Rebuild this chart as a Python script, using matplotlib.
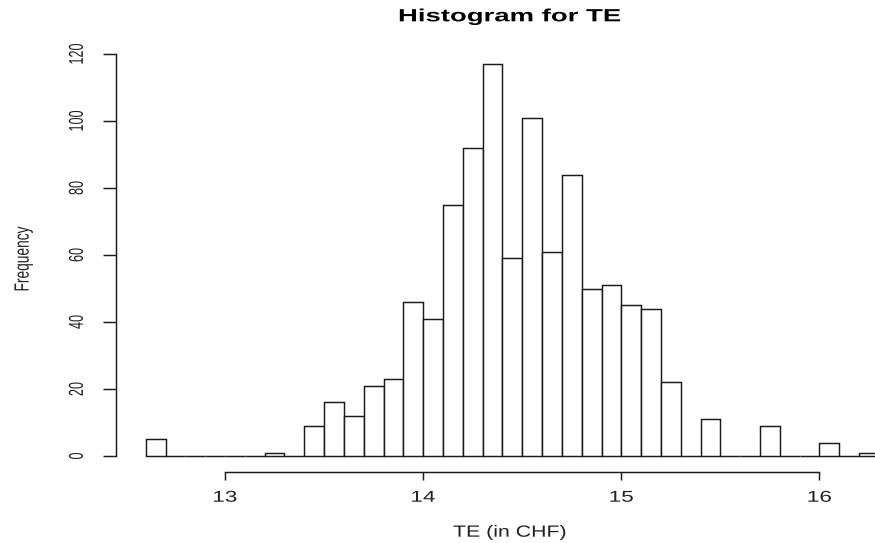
import numpy as np
import matplotlib
matplotlib.use("Agg")
import matplotlib.pyplot as plt
from matplotlib.patheffects import AbstractPathEffect
from matplotlib.transforms import Affine2D

# ---- data ----
bin_left = [12.6, 12.7, 12.8, 12.9, 13.0, 13.1, 13.2, 13.3, 13.4, 13.5,
            13.6, 13.7, 13.8, 13.9, 14.0, 14.1, 14.2, 14.3, 14.4, 14.5,
            14.6, 14.7, 14.8, 14.9, 15.0, 15.1, 15.2, 15.3, 15.4, 15.5,
            15.6, 15.7, 15.8, 15.9, 16.0, 16.1, 16.2]
counts = [5, 0, 0, 0, 0, 0, 1, 0, 9, 16,
          12, 21, 23, 46, 41, 75, 92, 117, 59, 101,
          61, 84, 50, 51, 45, 44, 22, 0, 11, 0,
          0, 9, 0, 0, 4, 0, 1]
bin_width = 0.1
x_ticks = [13, 14, 15, 16]
y_ticks = [0, 20, 40, 60, 80, 100, 120]
title = "Histogram for TE"
x_label = "TE (in CHF)"
y_label = "Frequency"

W, H = 875, 543
FONT = "Liberation Sans"


class HStretch(AbstractPathEffect):
    """Widen text glyphs horizontally about their centre."""
    def __init__(self, sx):
        super().__init__()
        self.sx = sx

    def draw_path(self, renderer, gc, tpath, affine, rgbFace=None):
        ext = tpath.get_extents(affine)
        cx = 0.5 * (ext.x0 + ext.x1)
        new = affine + Affine2D().translate(-cx, 0).scale(self.sx, 1).translate(cx, 0)
        renderer.draw_path(gc, tpath, new, rgbFace)


def fx(px):
    return px / W


def fy(py):
    return 1 - py / H


fig = plt.figure(figsize=(W / 100, H / 100), dpi=100)
fig.patch.set_facecolor("white")
ax = fig.add_axes([0, 0, 1, 1])
ax.set_facecolor("none")

# scales: 13 -> px 225, 16 -> px 819.5 ; 0 -> px 456, 120 -> px 54
ppu_x = (819.5 - 225) / 3.0
ppu_y = (456 - 54) / 120.0
ax.set_xlim(13 - 225 / ppu_x, 13 + (W - 225) / ppu_x)
ax.set_ylim(-(H - 456) / ppu_y, 456 / ppu_y)

ax.bar(bin_left, counts, width=bin_width, align="edge",
       facecolor="white", edgecolor="#1a1a1a", linewidth=1.05, zorder=2)

for s in ["top", "right"]:
    ax.spines[s].set_visible(False)
ax.spines["left"].set_position(("data", 12.6 - 0.04 * 3.7))
ax.spines["left"].set_bounds(0, 120)
ax.spines["bottom"].set_position(("data", -(472 - 456) / ppu_y))
ax.spines["bottom"].set_bounds(13, 16)
for s in ["left", "bottom"]:
    ax.spines[s].set_linewidth(1.05)
    ax.spines[s].set_color("#1a1a1a")

ax.set_xticks(x_ticks)
ax.set_xticklabels([str(t) for t in x_ticks])
ax.set_yticks(y_ticks)
ax.set_yticklabels([str(t) for t in y_ticks])
ax.tick_params(axis="y", direction="out", length=13 * 0.72, width=1.05,
               color="#1a1a1a", pad=14.5, labelsize=9.1, labelcolor="#222222")
ax.tick_params(axis="x", direction="out", length=8 * 0.72, width=1.05,
               color="#1a1a1a", pad=7, labelsize=11.3, labelcolor="#222222")
for lab in ax.get_yticklabels():
    lab.set_rotation(90)
    lab.set_fontfamily(FONT)
    lab.set_va("center")
    lab.set_path_effects([HStretch(1.6)])
for lab in ax.get_xticklabels():
    lab.set_fontfamily(FONT)
    lab.set_path_effects([HStretch(1.44)])

fig.text(fx(510), fy(21.3), title, fontsize=12.7, fontweight="bold",
         family=FONT, ha="center", va="baseline", color="black",
         path_effects=[HStretch(1.56)])
fig.text(fx(510), fy(536.7), x_label, fontsize=11.7, family=FONT,
         ha="center", va="baseline", color="#222222",
         path_effects=[HStretch(1.31)])
fig.text(fx(27), fy(259), y_label, fontsize=9.9, family=FONT, rotation=90,
         rotation_mode="anchor", ha="center", va="baseline", color="#222222",
         path_effects=[HStretch(1.5)])

fig.savefig("out.png", dpi=100, facecolor="white")
